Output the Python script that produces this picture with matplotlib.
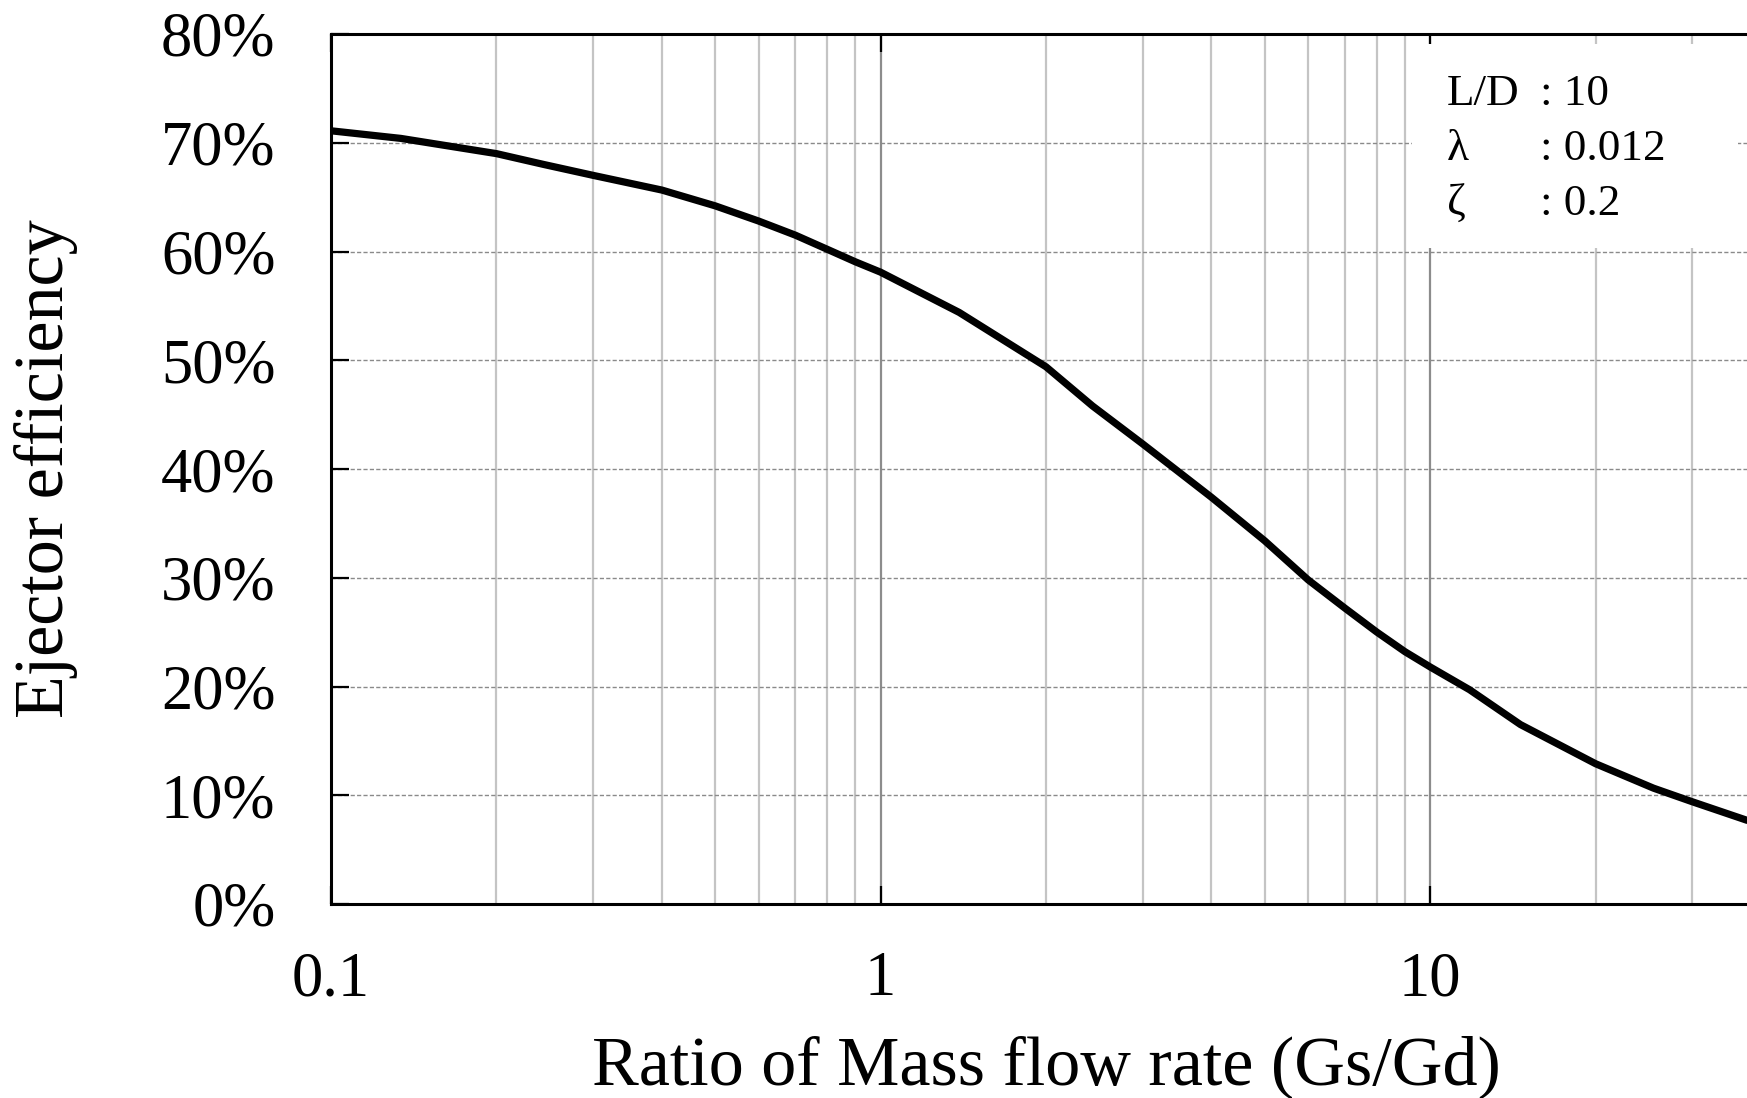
import matplotlib
matplotlib.use("Agg")
import matplotlib.pyplot as plt
from matplotlib.ticker import LogLocator, FixedLocator, FixedFormatter, NullFormatter
from matplotlib.patches import Rectangle

# ---- data ----
mass_ratio = [0.1, 0.134, 0.2, 0.244, 0.3, 0.4, 0.5, 0.6, 0.7, 0.8, 0.9, 1.0,
              1.39, 2.0, 2.43, 3.0, 4.0, 5.0, 6.0, 7.0, 8.0, 9.0, 10.0, 11.8,
              14.6, 20.0, 25.5, 30.0, 37.7, 40.0]
efficiency = [71.1, 70.4, 69.0, 68.0, 67.0, 65.65, 64.2, 62.8, 61.5, 60.2, 59.05,
              58.1, 54.4, 49.4, 45.8, 42.3, 37.4, 33.4, 29.8, 27.2, 25.0, 23.2,
              21.8, 19.7, 16.5, 12.9, 10.65, 9.4, 7.7, 7.2]
y_ticks = [0, 10, 20, 30, 40, 50, 60, 70, 80]
y_tick_labels = ["0%", "10%", "20%", "30%", "40%", "50%", "60%", "70%", "80%"]
x_ticks = [0.1, 1, 10]
x_tick_labels = ["0.1", "1", "10"]
param_names = ["L/D", "λ", "ζ"]
param_values = [": 10", ": 0.012", ": 0.2"]

plt.rcParams['font.family'] = ['Liberation Serif', 'DejaVu Serif']

fig = plt.figure(figsize=(17.47, 10.98), dpi=100)
ax = fig.add_axes([331/1747, (1098-904)/1098, (1761-331)/1747, (904-34)/1098])

ax.set_xscale('log')
ax.set_xlim(0.1, 40)
ax.set_ylim(0, 80)

ax.plot(mass_ratio, efficiency, color='black', lw=5.2, solid_joinstyle='round',
        solid_capstyle='butt', zorder=3)

ax.xaxis.set_major_locator(FixedLocator(x_ticks))
ax.xaxis.set_major_formatter(FixedFormatter(x_tick_labels))
ax.xaxis.set_minor_locator(LogLocator(base=10, subs=[2, 3, 4, 5, 6, 7, 8, 9], numticks=20))
ax.xaxis.set_minor_formatter(NullFormatter())
ax.yaxis.set_major_locator(FixedLocator(y_ticks))
ax.yaxis.set_major_formatter(FixedFormatter(y_tick_labels))

ax.set_axisbelow(True)
ax.grid(which='major', axis='y', color='#8a8a8a', lw=1.0, linestyle=(0, (3, 1.6)))
ax.grid(which='major', axis='x', color='#8c8c8c', lw=1.6)
ax.grid(which='minor', axis='x', color='#c4c4c4', lw=1.6)

ax.tick_params(which='major', direction='in', length=13, width=1.6, top=True,
               right=False, labelsize=45, color='black')
ax.tick_params(which='minor', length=0)
ax.tick_params(axis='y', pad=40)
ax.tick_params(axis='x', pad=34)

for s in ['left', 'bottom', 'top']:
    ax.spines[s].set_linewidth(2.2)
    ax.spines[s].set_color('black')
ax.spines['right'].set_visible(False)

# white box behind parameters
ax.add_patch(Rectangle((9.27, 60.3), 36.4 - 9.27, 18.8, facecolor='white',
                       edgecolor='none', zorder=1))

name_x = 1447/1747
val_x = 1540/1747
baselines = [105, 160, 215]
for n, v, b in zip(param_names, param_values, baselines):
    fy = (1098 - b) / 1098
    fig.text(name_x, fy, n, fontsize=32.5, va='baseline', ha='left')
    fig.text(val_x, fy, v, fontsize=32.5, va='baseline', ha='left')

fig.text(1046/1747, (1098-1084)/1098, "Ratio of Mass flow rate (Gs/Gd)",
         fontsize=50.5, ha='center', va='baseline')
fig.text(78/1747, (1098-469)/1098, "Ejector efficiency",
         fontsize=50.5, ha='right', va='center', rotation=90)

fig.savefig("out.png", dpi=100)
